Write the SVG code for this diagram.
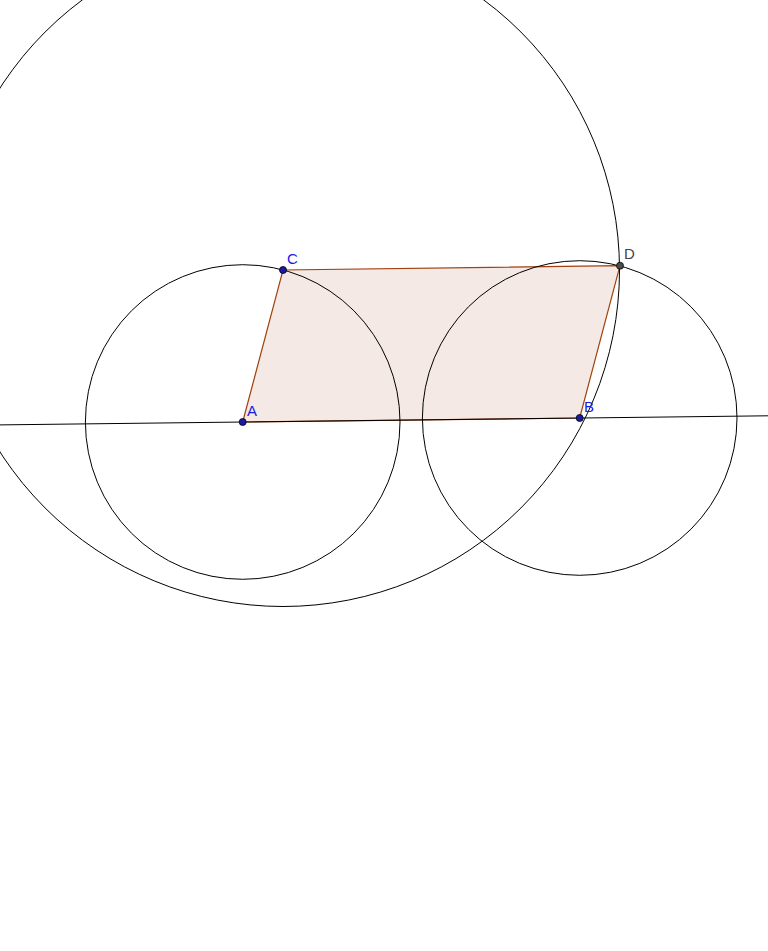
<svg xmlns="http://www.w3.org/2000/svg" width="768" height="951" viewBox="0 0 768 951">
<style>
.c{fill:none;stroke:#000;stroke-width:1}
.lbl{font-family:"Liberation Sans",Arial,sans-serif;font-size:15px}
.pt{fill:#1a1aa6;stroke:#000;stroke-width:0.8}
</style>
<rect width="768" height="951" fill="#fff"/>
<g id="parallelogram">
<polygon points="242.7,422 283,270 620,265.7 579.7,418" fill="#f4e9e4" stroke="#a0410d" stroke-width="1.2"/>
</g>
<g id="connectors">
<line x1="0" y1="424.9" x2="768" y2="415.8" stroke="#000" stroke-width="1"/>
<circle class="c" cx="242.7" cy="422" r="157.3"/>
<circle class="c" cx="579.7" cy="418" r="157.3"/>
<circle class="c" cx="283" cy="270" r="336.5"/>
</g>
<g id="A"><circle class="pt" cx="242.7" cy="422" r="3.5"/><text class="lbl" x="247" y="416" fill="#1a1ae6">A</text></g>
<g id="B"><circle class="pt" cx="579.7" cy="418" r="3.5"/><text class="lbl" x="584" y="412" fill="#1a1ae6">B</text></g>
<g id="C"><circle class="pt" cx="283" cy="270" r="3.5"/><text class="lbl" x="287" y="264" fill="#1a1ae6">C</text></g>
<g id="D"><circle cx="620" cy="265.7" r="3.5" fill="#4d4d4d" stroke="#000" stroke-width="0.8"/><text class="lbl" x="624" y="259" fill="#444">D</text></g>
</svg>
